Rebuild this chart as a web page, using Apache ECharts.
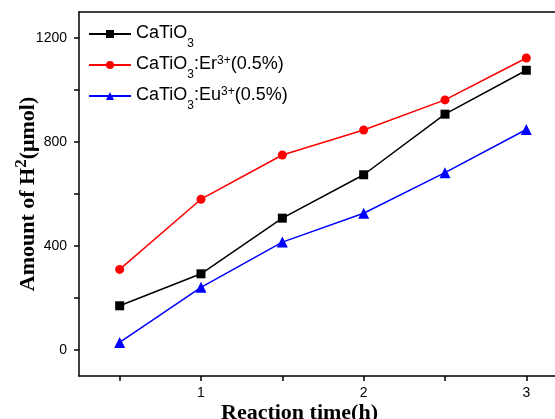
<!DOCTYPE html>
<html>
<head>
<meta charset="utf-8">
<title>CaTiO3 H2</title>
<script src="https://cdn.jsdelivr.net/npm/echarts@6/dist/echarts.min.js"></script>
<style>
  html, body { margin: 0; padding: 0; background: #fff; }
  #main { width: 555px; height: 419px; }
</style>
</head>
<body>
<div id="main"></div>
<script type="text/javascript">
    // reaction time (h)
    var times = [0.5, 1, 1.5, 2, 2.5, 3];
    // amount of H2 (umol)
    var pure = [170, 293, 507, 674, 907, 1076];
    var erDoped = [310, 580, 750, 846, 962, 1123];
    var euDoped = [29, 241, 415, 526, 682, 848];

    var xLabels = [1, 2, 3];
    var xTicks = [0.5, 1, 1.5, 2, 2.5, 3];
    var yLabels = [0, 400, 800, 1200];
    var yTicks = [0, 200, 400, 600, 800, 1000, 1200];

    function pairs(ys) {
        return times.map(function (t, i) { return [t, ys[i]]; });
    }

    var myChart = echarts.init(document.getElementById('main'));

    var legendNames = {
        'CaTiO3': '{m|CaTiO}{sub|3}',
        'CaTiO3:Er3+(0.5%)': '{m|CaTiO}{sub|3}{m|:Er}{sup|3+}{m|(0.5%)}',
        'CaTiO3:Eu3+(0.5%)': '{m|CaTiO}{sub|3}{m|:Eu}{sup|3+}{m|(0.5%)}'
    };

    var option = {
        backgroundColor: '#fff',
        animation: false,
        grid: {
            left: 79, right: -12, top: 12, bottom: 43,
            outerBoundsMode: 'none',
            containLabel: false,
            show: false
        },
        legend: {
            orient: 'vertical',
            left: 83, top: 19,
            itemWidth: 42, itemHeight: 10, itemGap: 5,
            data: ['CaTiO3', 'CaTiO3:Er3+(0.5%)', 'CaTiO3:Eu3+(0.5%)'],
            formatter: function (name) { return legendNames[name]; },
            textStyle: {
                rich: {
                    m: { fontFamily: 'Liberation Sans, Arial', fontSize: 18, color: '#000', lineHeight: 20, verticalAlign: 'top' },
                    sub: { fontFamily: 'Liberation Sans, Arial', fontSize: 12, color: '#000', lineHeight: 12, verticalAlign: 'bottom', padding: [0, 0, -6, 0] },
                    sup: { fontFamily: 'Liberation Sans, Arial', fontSize: 12, color: '#000', lineHeight: 12, verticalAlign: 'top' }
                }
            }
        },
        xAxis: [{
            type: 'value',
            min: 0.25, max: 3.25,
            name: 'Reaction time(h)',
            nameLocation: 'middle',
            nameGap: 26,
            nameMoveOverlap: false,
            nameTextStyle: {
                fontFamily: 'Liberation Serif, Times New Roman', fontWeight: 'bold',
                fontSize: 22, color: '#000', padding: [0, 47, 0, 0]
            },
            axisLine: { onZero: false, lineStyle: { color: '#000', width: 1.5 } },
            axisTick: { inside: false, length: 5, lineStyle: { width: 1.5, color: '#000' }, customValues: xTicks },
            axisLabel: {
                customValues: xLabels, fontFamily: 'Liberation Sans, Arial', fontSize: 14, color: '#000', margin: 10,
                formatter: function (v) { return String(v); }
            },
            splitLine: { show: false }
        }, {
            // top frame line
            type: 'value', position: 'top',
            min: 0.25, max: 3.25,
            axisLine: { show: true, onZero: false, lineStyle: { color: '#000', width: 1.5 } },
            axisTick: { show: false }, axisLabel: { show: false }, splitLine: { show: false }
        }],
        yAxis: {
            type: 'value',
            min: -100, max: 1300,
            name: '{n|Amount of H}{s|2}{n|(μmol)}',
            nameLocation: 'middle',
            nameGap: 40,
            nameMoveOverlap: false,
            nameTextStyle: {
                rich: {
                    n: { fontFamily: 'Liberation Serif, Times New Roman', fontWeight: 'bold', fontSize: 22, color: '#000', lineHeight: 26, verticalAlign: 'bottom' },
                    s: { fontFamily: 'Liberation Serif, Times New Roman', fontWeight: 'bold', fontSize: 17, color: '#000', lineHeight: 17, verticalAlign: 'top' }
                }
            },
            axisLine: { onZero: false, lineStyle: { color: '#000', width: 1.5 } },
            axisTick: { inside: false, length: 5, lineStyle: { width: 1.5, color: '#000' }, customValues: yTicks },
            axisLabel: {
                customValues: yLabels, fontFamily: 'Liberation Sans, Arial', fontSize: 14, color: '#000', margin: 12,
                formatter: function (v) { return String(v); }
            },
            splitLine: { show: false }
        },
        series: [
            {
                name: 'CaTiO3', type: 'line', data: pairs(pure),
                symbol: 'rect', symbolSize: 9,
                itemStyle: { color: '#000' }, lineStyle: { color: '#000', width: 1.5 }
            },
            {
                name: 'CaTiO3:Er3+(0.5%)', type: 'line', data: pairs(erDoped),
                symbol: 'circle', symbolSize: 9,
                itemStyle: { color: '#ff0000' }, lineStyle: { color: '#ff0000', width: 1.5 }
            },
            {
                name: 'CaTiO3:Eu3+(0.5%)', type: 'line', data: pairs(euDoped),
                symbol: 'triangle', symbolSize: 11,
                itemStyle: { color: '#0000ff' }, lineStyle: { color: '#0000ff', width: 1.5 }
            }
        ]
    };
    myChart.setOption(option);
</script>
</body>
</html>
